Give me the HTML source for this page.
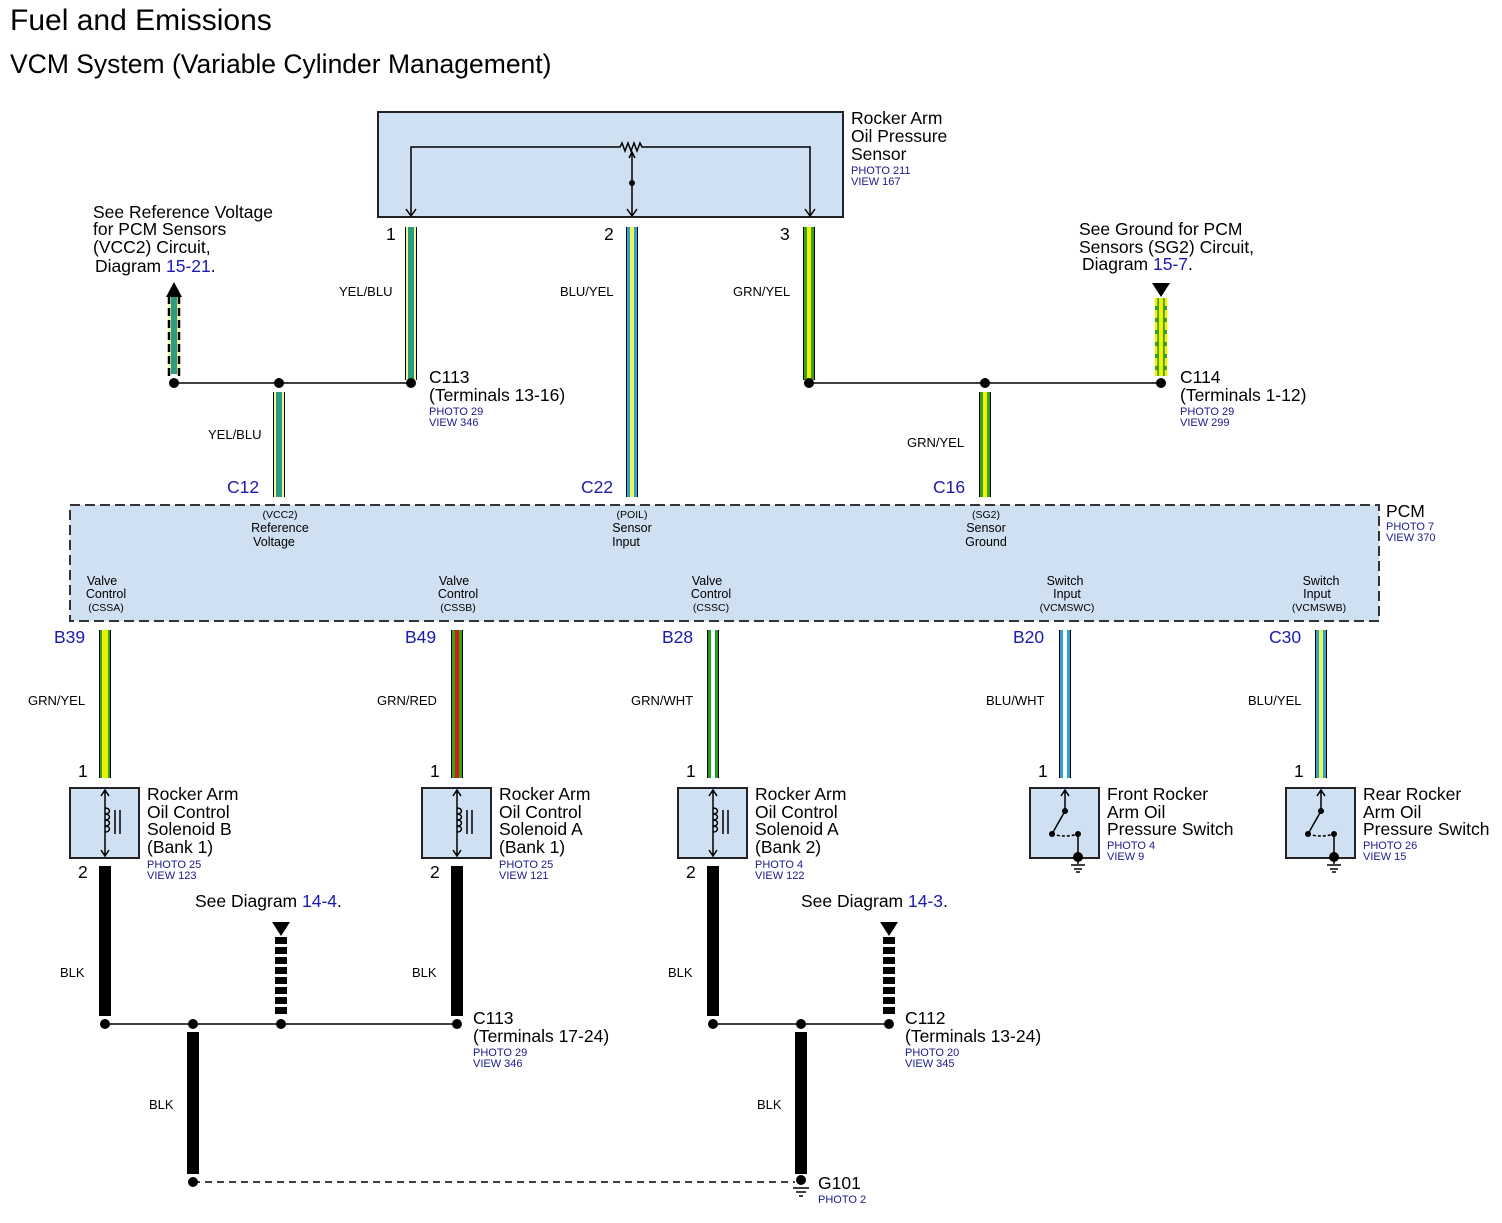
<!DOCTYPE html>
<html><head><meta charset="utf-8"><style>
body{margin:0;background:#fff}
svg{display:block;font-family:"Liberation Sans",sans-serif}
.s{font-size:13px}.l{font-size:17.5px}.p{font-size:11px;fill:#1a1a8c}.b{fill:#1a1ab0}
</style></head><body>
<svg width="1502" height="1223" viewBox="0 0 1502 1223">
<text x="10" y="30" font-size="30">Fuel and Emissions</text>
<text x="10" y="73" font-size="26.5">VCM System (Variable Cylinder Management)</text>

<rect x="378" y="112" width="465" height="105" fill="#cfe0f3" stroke="#222" stroke-width="2"/>
<path d="M411,215 V147 H620 l2,-4 3,8 3,-8 3,8 3,-8 3,8 3,-8 2,4 H810 V215" fill="none" stroke="#000" stroke-width="1.5"/>
<path d="M632,215 V152" stroke="#000" stroke-width="1.5"/>
<circle cx="632" cy="183" r="3"/>
<path d="M406,209 l5,7 5,-7 M627,209 l5,7 5,-7 M805,209 l5,7 5,-7 M629,158 l3,-6 3,6" fill="none" stroke="#000" stroke-width="1.5"/>
<text x="851" y="124" class="l">Rocker Arm</text><text x="851" y="142" class="l">Oil Pressure</text><text x="851" y="160" class="l">Sensor</text>
<text x="851" y="174" class="p">PHOTO 211</text><text x="851" y="185" class="p">VIEW 167</text>
<text x="386" y="240" class="l">1</text><text x="604" y="240" class="l">2</text><text x="780" y="240" class="l">3</text>

<g>
<rect x="405" y="227" width="12" height="153" fill="#000"/><rect x="406" y="227" width="10" height="153" fill="#f5f5a0"/><rect x="408" y="227" width="6" height="153" fill="#2a9d80"/>
<rect x="626" y="227" width="12" height="270" fill="#000"/><rect x="627" y="227" width="10" height="270" fill="#2aa4c8"/><rect x="630" y="227" width="4" height="270" fill="#f2f25a"/>
<rect x="803" y="227" width="12" height="153" fill="#000"/><rect x="804" y="227" width="10" height="153" fill="#3aa11f"/><rect x="807" y="227" width="4" height="153" fill="#f2f200"/>
<rect x="273" y="392" width="12" height="105" fill="#000"/><rect x="274" y="392" width="10" height="105" fill="#f5f5a0"/><rect x="276" y="392" width="6" height="105" fill="#2a9d80"/>
<rect x="979" y="392" width="12" height="105" fill="#000"/><rect x="980" y="392" width="10" height="105" fill="#3aa11f"/><rect x="983" y="392" width="4" height="105" fill="#f2f200"/>
</g>
<rect x="168" y="296" width="12" height="78" fill="#f5f5a0"/><rect x="171" y="296" width="6" height="78" fill="#2a9d80"/>
<path d="M169,296 V376 M179,296 V376" stroke="#000" stroke-width="2.5" stroke-dasharray="8,4"/>
<path d="M166,297 L174,282 L182,297 Z"/>
<rect x="1155" y="298" width="12" height="78" fill="#3aa11f"/><rect x="1159" y="298" width="4" height="78" fill="#f2f200"/>
<path d="M1156,298 V376 M1166,298 V376" stroke="#f2f200" stroke-width="2.5" stroke-dasharray="8,4"/>
<path d="M1152,283 L1170,283 L1161,297 Z"/>
<path d="M174,383 H411 M809,383 H1161" stroke="#000" stroke-width="1.5"/>
<g fill="#000"><circle cx="174" cy="383" r="5"/><circle cx="279" cy="383" r="5"/><circle cx="411" cy="383" r="5"/><circle cx="809" cy="383" r="5"/><circle cx="985" cy="383" r="5"/><circle cx="1161" cy="383" r="5"/></g>
<text x="93" y="218" class="l">See Reference Voltage</text><text x="93" y="235" class="l">for PCM Sensors</text><text x="93" y="253" class="l">(VCC2) Circuit,</text><text x="95" y="272" class="l">Diagram <tspan class="b">15-21</tspan>.</text>
<text x="1079" y="235" class="l">See Ground for PCM</text><text x="1079" y="253" class="l">Sensors (SG2) Circuit,</text><text x="1082" y="270" class="l">Diagram <tspan class="b">15-7</tspan>.</text>
<text x="339" y="296" class="s">YEL/BLU</text><text x="560" y="296" class="s">BLU/YEL</text><text x="733" y="296" class="s">GRN/YEL</text>
<text x="208" y="439" class="s">YEL/BLU</text><text x="907" y="447" class="s">GRN/YEL</text>
<text x="429" y="383" class="l">C113</text><text x="429" y="401" class="l">(Terminals 13-16)</text><text x="429" y="415" class="p">PHOTO 29</text><text x="429" y="426" class="p">VIEW 346</text>
<text x="1180" y="383" class="l">C114</text><text x="1180" y="401" class="l">(Terminals 1-12)</text><text x="1180" y="415" class="p">PHOTO 29</text><text x="1180" y="426" class="p">VIEW 299</text>
<text x="227" y="493" class="l b">C12</text><text x="581" y="493" class="l b">C22</text><text x="933" y="493" class="l b">C16</text>

<rect x="70" y="505" width="1309" height="116" fill="#cfe0f3" stroke="#333" stroke-width="2" stroke-dasharray="10,5"/>
<text x="1386" y="517" class="l">PCM</text><text x="1386" y="530" class="p">PHOTO 7</text><text x="1386" y="541" class="p">VIEW 370</text>
<g font-size="12.5" text-anchor="middle">
<text x="280" y="518" font-size="10.5">(VCC2)</text><text x="280" y="532">Reference</text><text x="274" y="546">Voltage</text>
<text x="632" y="518" font-size="10.5">(POIL)</text><text x="632" y="532">Sensor</text><text x="626" y="546">Input</text>
<text x="986" y="518" font-size="10.5">(SG2)</text><text x="986" y="532">Sensor</text><text x="986" y="546">Ground</text>
<text x="102" y="585">Valve</text><text x="106" y="598">Control</text><text x="106" y="611" font-size="10.5">(CSSA)</text>
<text x="454" y="585">Valve</text><text x="458" y="598">Control</text><text x="458" y="611" font-size="10.5">(CSSB)</text>
<text x="707" y="585">Valve</text><text x="711" y="598">Control</text><text x="711" y="611" font-size="10.5">(CSSC)</text>
<text x="1065" y="585">Switch</text><text x="1067" y="598">Input</text><text x="1067" y="611" font-size="10.5">(VCMSWC)</text>
<text x="1321" y="585">Switch</text><text x="1317" y="598">Input</text><text x="1319" y="611" font-size="10.5">(VCMSWB)</text>
</g>
<g class="l b"><text x="54" y="643">B39</text><text x="405" y="643">B49</text><text x="662" y="643">B28</text><text x="1013" y="643">B20</text><text x="1269" y="643">C30</text></g>

<rect x="99" y="630" width="12" height="148" fill="#000"/><rect x="100" y="630" width="10" height="148" fill="#3aa11f"/><rect x="102" y="630" width="6" height="148" fill="#e8f200"/>
<rect x="451" y="630" width="12" height="148" fill="#000"/><rect x="452" y="630" width="10" height="148" fill="#3aa11f"/><rect x="455" y="630" width="4" height="148" fill="#d02010"/>
<rect x="707" y="630" width="12" height="148" fill="#000"/><rect x="708" y="630" width="10" height="148" fill="#22a022"/><rect x="711" y="630" width="4" height="148" fill="#fff"/>
<rect x="1059" y="630" width="12" height="148" fill="#000"/><rect x="1060" y="630" width="10" height="148" fill="#2aa4c8"/><rect x="1063" y="630" width="4" height="148" fill="#fff"/>
<rect x="1315" y="630" width="12" height="148" fill="#000"/><rect x="1316" y="630" width="10" height="148" fill="#2aa4c8"/><rect x="1319" y="630" width="4" height="148" fill="#f2f25a"/>
<g class="s"><text x="28" y="705">GRN/YEL</text><text x="377" y="705">GRN/RED</text><text x="631" y="705">GRN/WHT</text><text x="986" y="705">BLU/WHT</text><text x="1248" y="705">BLU/YEL</text></g>
<g class="l"><text x="78" y="777">1</text><text x="430" y="777">1</text><text x="686" y="777">1</text><text x="1038" y="777">1</text><text x="1294" y="777">1</text>
<text x="78" y="878">2</text><text x="430" y="878">2</text><text x="686" y="878">2</text></g>

<g fill="#cfe0f3" stroke="#222" stroke-width="2">
<rect x="70" y="788" width="69" height="70"/><rect x="422" y="788" width="69" height="70"/><rect x="678" y="788" width="69" height="70"/><rect x="1030" y="788" width="69" height="70"/><rect x="1286" y="788" width="69" height="70"/></g>
<g fill="none" stroke="#000" stroke-width="1.5">
<path d="M105,790 V856 M101,796 l4,-6 4,6 M101,850 l4,6 4,-6 M105,808 c6,0 6,6 0,6 c6,0 6,6 0,6 c6,0 6,6 0,6 c6,0 6,6 0,6 M115,810 V834 M120,810 V834"/>
<path d="M457,790 V856 M453,796 l4,-6 4,6 M453,850 l4,6 4,-6 M457,808 c6,0 6,6 0,6 c6,0 6,6 0,6 c6,0 6,6 0,6 c6,0 6,6 0,6 M467,810 V834 M472,810 V834"/>
<path d="M713,790 V856 M709,796 l4,-6 4,6 M709,850 l4,6 4,-6 M713,808 c6,0 6,6 0,6 c6,0 6,6 0,6 c6,0 6,6 0,6 c6,0 6,6 0,6 M723,810 V834 M728,810 V834"/>
<path d="M1065,790 V811 L1052,834 M1061,796 l4,-6 4,6 M1078,834 V858"/><path d="M1052,834 Q1065,838 1078,834" stroke-dasharray="3,2"/>
<path d="M1321,790 V811 L1308,834 M1317,796 l4,-6 4,6 M1334,834 V858"/><path d="M1308,834 Q1321,838 1334,834" stroke-dasharray="3,2"/>
<path d="M1071,865 h14 M1074,869 h8 M1076,872 h4 M1327,865 h14 M1330,869 h8 M1332,872 h4 M1078,858 v6 M1334,858 v6"/>
</g>
<g><circle cx="1065" cy="811" r="3"/><circle cx="1052" cy="834" r="3"/><circle cx="1078" cy="834" r="3"/><circle cx="1078" cy="857" r="5"/>
<circle cx="1321" cy="811" r="3"/><circle cx="1308" cy="834" r="3"/><circle cx="1334" cy="834" r="3"/><circle cx="1334" cy="857" r="5"/></g>
<g class="l"><text x="147" y="800">Rocker Arm</text><text x="147" y="818">Oil Control</text><text x="147" y="835">Solenoid B</text><text x="147" y="853">(Bank 1)</text>
<text x="499" y="800">Rocker Arm</text><text x="499" y="818">Oil Control</text><text x="499" y="835">Solenoid A</text><text x="499" y="853">(Bank 1)</text>
<text x="755" y="800">Rocker Arm</text><text x="755" y="818">Oil Control</text><text x="755" y="835">Solenoid A</text><text x="755" y="853">(Bank 2)</text>
<text x="1107" y="800">Front Rocker</text><text x="1107" y="818">Arm Oil</text><text x="1107" y="835">Pressure Switch</text>
<text x="1363" y="800">Rear Rocker</text><text x="1363" y="818">Arm Oil</text><text x="1363" y="835">Pressure Switch</text></g>
<g class="p"><text x="147" y="868">PHOTO 25</text><text x="147" y="879">VIEW 123</text><text x="499" y="868">PHOTO 25</text><text x="499" y="879">VIEW 121</text>
<text x="755" y="868">PHOTO 4</text><text x="755" y="879">VIEW 122</text><text x="1107" y="849">PHOTO 4</text><text x="1107" y="860">VIEW 9</text>
<text x="1363" y="849">PHOTO 26</text><text x="1363" y="860">VIEW 15</text></g>

<g fill="#000">
<rect x="99" y="866" width="12" height="150"/><rect x="451" y="866" width="12" height="150"/><rect x="707" y="866" width="12" height="150"/>
<rect x="187" y="1032" width="12" height="142"/><rect x="795" y="1032" width="12" height="142"/>
</g>
<path d="M281,937 V1016 M889,937 V1016" stroke="#000" stroke-width="12" stroke-dasharray="7,3"/>
<path d="M272,922 H290 L281,936 Z M880,922 H898 L889,936 Z"/>
<path d="M105,1024 H457 M713,1024 H889" stroke="#000" stroke-width="1.5"/>
<path d="M193,1182 H795" stroke="#000" stroke-width="1.5" stroke-dasharray="7,5"/>
<g><circle cx="105" cy="1024" r="5"/><circle cx="193" cy="1024" r="5"/><circle cx="281" cy="1024" r="5"/><circle cx="457" cy="1024" r="5"/>
<circle cx="713" cy="1024" r="5"/><circle cx="801" cy="1024" r="5"/><circle cx="889" cy="1024" r="5"/><circle cx="193" cy="1182" r="5"/><circle cx="801" cy="1180" r="5"/></g>
<path d="M793,1188 h16 M796,1192 h10 M799,1196 h4" stroke="#000" stroke-width="1.5"/>
<g class="s"><text x="60" y="977">BLK</text><text x="412" y="977">BLK</text><text x="668" y="977">BLK</text><text x="149" y="1109">BLK</text><text x="757" y="1109">BLK</text></g>
<text x="195" y="907" class="l">See Diagram <tspan class="b">14-4</tspan>.</text>
<text x="801" y="907" class="l">See Diagram <tspan class="b">14-3</tspan>.</text>
<text x="473" y="1024" class="l">C113</text><text x="473" y="1042" class="l">(Terminals 17-24)</text><text x="473" y="1056" class="p">PHOTO 29</text><text x="473" y="1067" class="p">VIEW 346</text>
<text x="905" y="1024" class="l">C112</text><text x="905" y="1042" class="l">(Terminals 13-24)</text><text x="905" y="1056" class="p">PHOTO 20</text><text x="905" y="1067" class="p">VIEW 345</text>
<text x="818" y="1189" class="l">G101</text><text x="818" y="1203" class="p">PHOTO 2</text>
</svg>
</body></html>
